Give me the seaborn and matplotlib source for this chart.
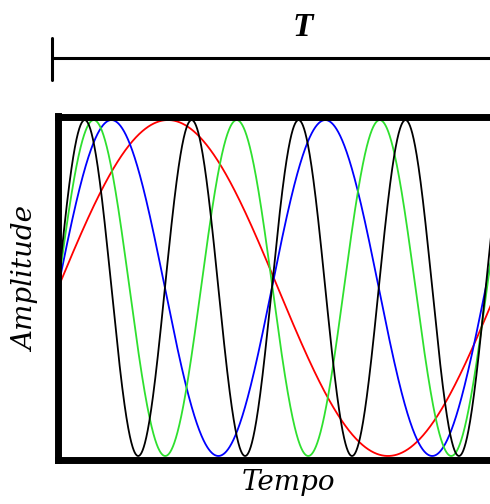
import numpy as np
import pandas as pd
import seaborn as sns
import matplotlib.pyplot as plt
from matplotlib.lines import Line2D

# periods of each wave, in units of the red period (T)
colors = ["red", "blue", "#2fe02f", "black"]
periods = [1.0, 0.486, 0.325, 0.243]
amplitude = 1.0

W, H = 490, 504
t = np.linspace(0, 1.05, 2000)

rows = []
for c, p in zip(colors, periods):
    rows.append(pd.DataFrame({"t": t, "y": amplitude * np.sin(2 * np.pi * t / p), "wave": c}))
df = pd.concat(rows, ignore_index=True)

sns.set_style("white")
fig = plt.figure(figsize=(W / 100, H / 100), dpi=100)

# axes in pixel coords (extends past the right edge, like the cropped original)
left, right, top, bottom = 58, 505, 116.5, 459.5
ax = fig.add_axes([left / W, 1 - bottom / H, (right - left) / W, (bottom - top) / H])

sns.lineplot(data=df, x="t", y="y", hue="wave", palette=dict(zip(colors, colors)),
             hue_order=colors, linewidth=1.3, legend=False, ax=ax, sort=False)

ax.set_xlim(0, (right - left) / 440)
ax.set_ylim(-1.021, 1.021)
ax.set_xticks([])
ax.set_yticks([])
ax.set_xlabel("")
ax.set_ylabel("")
for s in ax.spines.values():
    s.set_visible(True)
    s.set_color("black")
    s.set_linewidth(5)
    s.set_capstyle("projecting")

# T bar above the plot
def fx(px):
    return px / W

def fy(py):
    return 1 - py / H

fig.add_artist(Line2D([fx(52), fx(52)], [fy(38), fy(80)], color="black", lw=2.2))
fig.add_artist(Line2D([fx(52), fx(500)], [fy(58), fy(58)], color="black", lw=2.2))
fig.text(fx(303), fy(27), "T", ha="center", va="center", fontsize=24, color="black",
         family="Liberation Serif", style="italic", weight="bold")

fig.text(fx(288), fy(490), "Tempo", ha="center", va="baseline", fontsize=20,
         color="black", family="DejaVu Serif", style="italic")
fig.text(fx(27), fy(279), "Amplitude", ha="center", va="center", rotation=90,
         fontsize=20, color="black", family="DejaVu Serif", style="italic")

fig.savefig("out.png", dpi=100)
